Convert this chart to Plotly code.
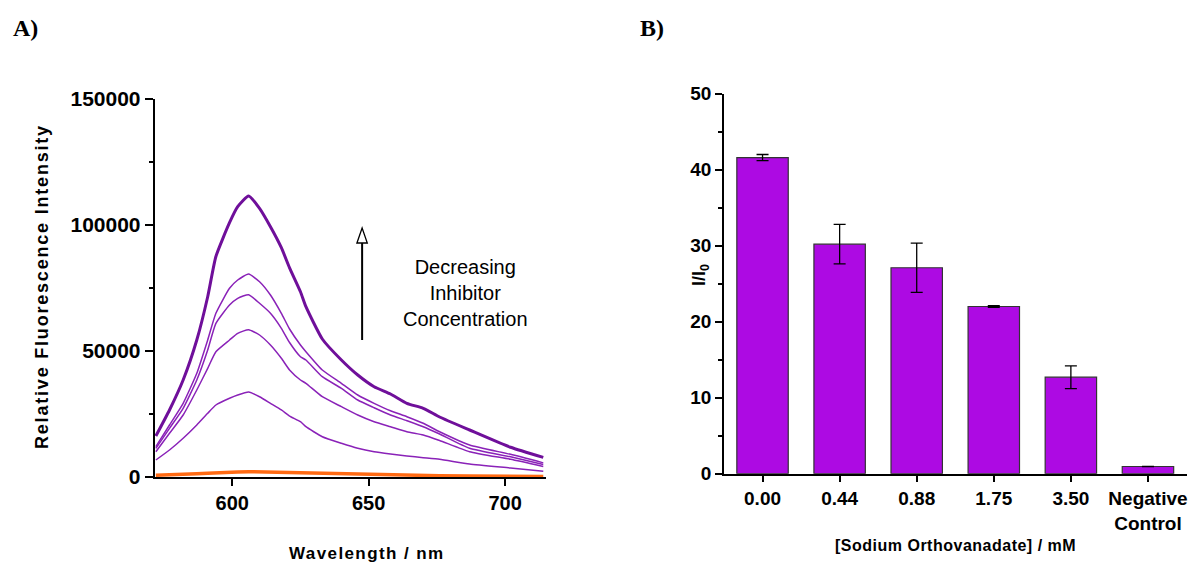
import plotly.graph_objects as go

# ---------------- Panel A data ----------------
wavelength = [572, 577, 582, 587, 591, 594, 599, 602, 606, 610, 614, 618, 621,
              625, 627, 633, 640, 646, 652, 658, 664, 670, 676, 687, 702, 714]
curve_top = [16270, 26590, 38490, 54360, 71540, 87500, 100900, 107250, 111500,
             106620, 99320, 91000, 83000, 73500, 67570, 54760, 46430, 40470,
             35830, 32930, 29240, 27260, 23810, 18650, 11800, 7800]
curve_2 = [12020, 20630, 29240, 41150, 54360, 64960, 74880, 78170, 80550, 77500,
           72220, 64960, 58730, 52380, 49720, 42460, 37180, 32540, 29240, 26310,
           23930, 21310, 17970, 12700, 9000, 5600]
curve_3 = [11390, 19320, 27260, 38490, 50390, 60990, 68250, 70910, 72340, 68930,
           64960, 59000, 53370, 47730, 46430, 39800, 35200, 30550, 27500, 24600,
           22340, 19960, 17060, 11390, 8000, 5000]
curve_4 = [10040, 17340, 24600, 34520, 43130, 49720, 54360, 57020, 58450, 56350,
           52380, 47100, 42460, 38490, 37180, 31860, 27900, 24600, 21940, 19960,
           17970, 16670, 14480, 10040, 7000, 4200]
curve_5 = [6750, 10710, 15360, 20630, 25280, 28570, 31230, 32540, 33730, 31860,
           29240, 26590, 24200, 21940, 19960, 15990, 13370, 11390, 10040, 9130,
           8330, 7660, 7020, 5160, 3600, 2300]
curve_neg = [700, 800, 1000, 1300, 1500, 1700, 1900, 2000, 2100, 2000, 1900, 1800,
             1700, 1600, 1500, 1300, 1100, 1000, 900, 800, 700, 600, 500, 400, 300, 200]

y_ticks_a = [0, 50000, 100000, 150000]
x_ticks_a = [600, 650, 700]

# ---------------- Panel B data ----------------
bar_labels = ["0.00", "0.44", "0.88", "1.75", "3.50", "Negative<br>Control"]
bar_values = [41.6, 30.2, 27.1, 22.0, 12.7, 0.95]
bar_errors = [0.4, 2.6, 3.25, 0.1, 1.5, 0.0]
y_ticks_b = [0, 10, 20, 30, 40, 50]

FONT = "Liberation Sans"
W, H = 1189, 566

fig = go.Figure()

thin_col = "#8a22b8"
thick_col = "#6f0f9a"
for c in [curve_5, curve_4, curve_3, curve_2]:
    fig.add_trace(go.Scatter(x=wavelength, y=c, mode="lines",
                             line=dict(color=thin_col, width=1.5, shape="spline",
                                       smoothing=0.5),
                             xaxis="x", yaxis="y", showlegend=False))
fig.add_trace(go.Scatter(x=wavelength, y=curve_top, mode="lines",
                         line=dict(color=thick_col, width=3, shape="spline",
                                   smoothing=0.5),
                         xaxis="x", yaxis="y", showlegend=False))
fig.add_trace(go.Scatter(x=wavelength, y=curve_neg, mode="lines",
                         line=dict(color="#ff6a13", width=3.5),
                         xaxis="x", yaxis="y", showlegend=False))

fig.add_trace(go.Bar(x=list(range(len(bar_values))), y=bar_values, width=0.667,
                     marker=dict(color="#ad0ae3", line=dict(color="#333333", width=1.2)),
                     error_y=dict(type="data", array=bar_errors, color="black",
                                  thickness=1.3, width=6),
                     xaxis="x2", yaxis="y2", showlegend=False))

axis_common = dict(showgrid=False, zeroline=False, showline=True, linecolor="black",
                   linewidth=1.5, ticks="outside", tickcolor="black", tickwidth=1.5,
                   automargin=False)

fig.update_layout(
    template="none",
    width=W, height=H, margin=dict(l=0, r=0, t=0, b=0, pad=0, autoexpand=False),
    paper_bgcolor="white", plot_bgcolor="white", showlegend=False,
    font=dict(family=FONT, color="black"),
    xaxis=dict(domain=[154.5 / W, 546 / W], range=[571.5, 715], tickvals=x_ticks_a,
               ticklen=7, tickfont=dict(size=20, family=FONT, weight="bold"),
               anchor="y", **axis_common),
    yaxis=dict(domain=[1 - 477 / H, 1 - 99 / H], range=[0, 150000], tickvals=y_ticks_a,
               tickformat="d",
               ticklen=8, tickfont=dict(size=21, family=FONT, weight="bold"),
               minor=dict(dtick=25000, ticklen=4, ticks="outside", tickcolor="black",
                          tickwidth=1.5, showgrid=False),
               anchor="x", **axis_common),
    xaxis2=dict(domain=[724 / W, 1186.5 / W], range=[-0.5, 5.5],
                tickvals=list(range(len(bar_labels))), ticktext=bar_labels,
                ticklen=7, tickfont=dict(size=19, family=FONT, weight="bold"),
                anchor="y2", **axis_common),
    yaxis2=dict(domain=[1 - 473.7 / H, 1 - 93.7 / H], range=[0, 50], tickvals=y_ticks_b,
                ticklen=7, tickfont=dict(size=19, family=FONT, weight="bold"),
                minor=dict(dtick=5, ticklen=4, ticks="outside", tickcolor="black",
                           tickwidth=1.5, showgrid=False),
                anchor="x2", **axis_common),
)

def pa(x, y, text, size, weight="bold", angle=0, family=FONT, spacing=None):
    if spacing:
        text = f'<span style="letter-spacing:{spacing}px">{text}</span>'
    fig.add_annotation(x=x / W, y=1 - y / H, xref="paper", yref="paper", text=text,
                       showarrow=False, textangle=angle, xanchor="center",
                       yanchor="middle",
                       font=dict(size=size, family=family, weight=weight, color="black"))

pa(25, 28, "A)", 24, family="Liberation Serif")
pa(652, 28, "B)", 24, family="Liberation Serif")
pa(42, 287, "Relative Fluorescence Intensity", 18, angle=-90, spacing=1.8)
pa(366, 553, "Wavelength / nm", 17, spacing=1.4)
pa(700, 275, "I/I<sub>0</sub>", 18, angle=-90)
pa(955.7, 545, "[Sodium Orthovanadate] / mM", 16, spacing=0.5)
pa(465, 293, "Decreasing<br>Inhibitor<br>Concentration", 20, weight="normal")

# arrow (data coordinates of panel A)
ax_x = 647.6
fig.add_shape(type="line", xref="x", yref="y", x0=ax_x, x1=ax_x, y0=54360, y1=93000,
              line=dict(color="black", width=2))
fig.add_shape(type="path", xref="x", yref="y",
              path=f"M {ax_x-1.9},{92850} L {ax_x},{98800} L {ax_x+1.9},{92850} Z",
              fillcolor="white", line=dict(color="black", width=1.3))

fig.write_html("out.html")
